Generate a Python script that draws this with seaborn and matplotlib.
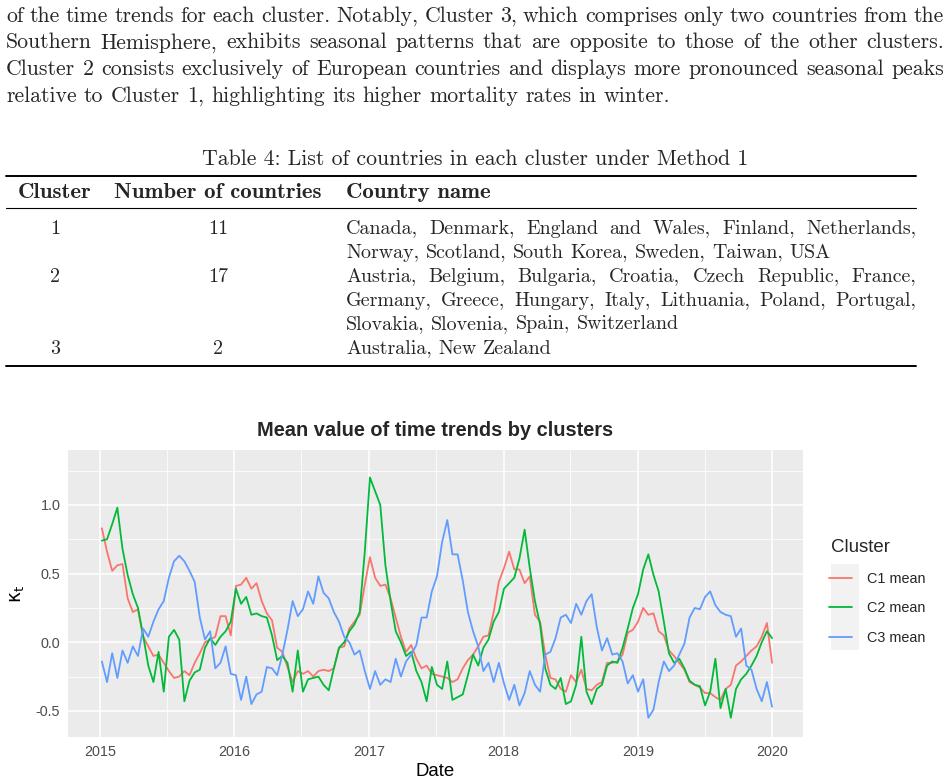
import numpy as np
import pandas as pd
import matplotlib
matplotlib.use("Agg")
import matplotlib.pyplot as plt
import matplotlib.dates as mdates
import seaborn as sns
from matplotlib.patches import Rectangle
from matplotlib.lines import Line2D
from matplotlib.font_manager import FontProperties

# -----------------------------
# Data (biweekly means)
# -----------------------------
dates = pd.date_range("2015-01-06", periods=131, freq="14D")

c1_mean = [
    0.83, 0.66, 0.52, 0.56, 0.57, 0.32, 0.22, 0.24, 0.04, -0.03, -0.10, -0.09, -0.15, -0.21,
    -0.26, -0.25, -0.21, -0.24, -0.15, -0.08, 0.00, 0.02, 0.04, 0.19, 0.19, 0.05, 0.41,
    0.42, 0.47, 0.39, 0.43, 0.30, 0.21, 0.16, -0.04, -0.07, -0.18, -0.29, -0.21, -0.23,
    -0.21, -0.25, -0.21, -0.20, -0.21, -0.19, -0.04, -0.03, 0.10, 0.15, 0.20, 0.42,
    0.62, 0.47, 0.41, 0.42, 0.32, 0.18, 0.04, -0.07, -0.02, -0.12, -0.19, -0.17, -0.23,
    -0.24, -0.25, -0.26, -0.29, -0.27, -0.19, -0.13, -0.09, -0.03, 0.04, 0.05, 0.22, 0.44,
    0.54, 0.66, 0.53, 0.53, 0.43, 0.48, 0.20, 0.15, -0.09, -0.26, -0.27, -0.34, -0.36,
    -0.24, -0.29, -0.20, -0.34, -0.35, -0.31, -0.29, -0.15, -0.15, -0.14, -0.09, 0.07, 0.09,
    0.15, 0.25, 0.20, 0.21, 0.08, 0.05, -0.06, -0.10, -0.15, -0.20, -0.29, -0.31, -0.33,
    -0.37, -0.37, -0.40, -0.42, -0.34, -0.31, -0.17, -0.14, -0.10, -0.06, -0.03, 0.04, 0.14, -0.15,
]
c2_mean = [
    0.74, 0.75, 0.86, 0.98, 0.68, 0.49, 0.35, 0.25, 0.05, -0.17, -0.29, -0.07, -0.36, 0.04,
    0.09, 0.02, -0.43, -0.28, -0.22, -0.20, -0.04, 0.03, -0.02, 0.04, 0.08, 0.15, 0.39,
    0.28, 0.33, 0.20, 0.21, 0.19, 0.18, 0.05, -0.13, -0.10, -0.15, -0.36, -0.06, -0.36,
    -0.27, -0.26, -0.25, -0.31, -0.35, -0.19, -0.04, 0.00, 0.08, 0.13, 0.22, 0.66,
    1.20, 1.10, 1.00, 0.56, 0.30, 0.08, 0.00, -0.10, -0.07, -0.21, -0.29, -0.43, -0.18,
    -0.31, -0.34, -0.14, -0.42, -0.40, -0.38, -0.24, -0.09, -0.17, -0.04, 0.02, 0.15, 0.22,
    0.39, 0.43, 0.47, 0.61, 0.82, 0.54, 0.30, 0.13, -0.19, -0.31, -0.34, -0.26, -0.45,
    -0.43, -0.31, 0.04, -0.36, -0.45, -0.34, -0.31, -0.17, -0.14, -0.15, -0.04, 0.10, 0.25,
    0.35, 0.53, 0.64, 0.49, 0.37, 0.15, -0.08, -0.15, -0.12, -0.19, -0.28, -0.31, -0.32,
    -0.46, -0.36, -0.12, -0.48, -0.34, -0.55, -0.34, -0.27, -0.23, -0.17, -0.10, 0.00, 0.08, 0.03,
]
c3_mean = [
    -0.14, -0.29, -0.08, -0.26, -0.06, -0.15, -0.03, -0.10, 0.10, 0.04, 0.15, 0.24, 0.30,
    0.47, 0.59, 0.63, 0.59, 0.52, 0.44, 0.18, 0.02, 0.08, -0.19, -0.15, -0.03, -0.23, -0.24,
    -0.42, -0.25, -0.45, -0.38, -0.36, -0.18, -0.19, -0.24, -0.09, 0.09, 0.30, 0.19, 0.24,
    0.37, 0.28, 0.48, 0.36, 0.32, 0.22, 0.15, 0.04, 0.00, -0.09, -0.06, -0.21,
    -0.34, -0.21, -0.31, -0.27, -0.29, -0.12, -0.25, -0.14, -0.09, -0.02, 0.18, 0.18, 0.37,
    0.48, 0.73, 0.89, 0.64, 0.64, 0.45, 0.22, 0.08, -0.03, -0.21, -0.15, -0.29, -0.15,
    -0.30, -0.42, -0.31, -0.46, -0.37, -0.21, -0.31, -0.36, -0.09, -0.07, 0.03, 0.18, 0.20,
    0.14, 0.28, 0.20, 0.30, 0.35, 0.11, -0.06, 0.03, -0.09, -0.08, -0.14, -0.30, -0.24,
    -0.36, -0.27, -0.55, -0.49, -0.29, -0.14, -0.21, -0.17, -0.09, -0.01, 0.18, 0.25, 0.24,
    0.33, 0.37, 0.27, 0.22, 0.20, 0.19, 0.04, 0.10, -0.17, -0.20, -0.34, -0.43, -0.29, -0.47,
]

cluster_labels = ["C1 mean", "C2 mean", "C3 mean"]
cluster_colors = ["#F8766D", "#00BA38", "#619CFF"]
y_ticks = [-0.5, 0.0, 0.5, 1.0]
y_tick_labels = ["-0.5", "0.0", "0.5", "1.0"]
y_minor = [-0.25, 0.25, 0.75, 1.25]

paragraph = [
    "of the time trends for each cluster.  Notably, Cluster 3, which comprises only two countries from the",
    "Southern Hemisphere, exhibits seasonal patterns that are opposite to those of the other clusters.",
    "Cluster 2 consists exclusively of European countries and displays more pronounced seasonal peaks",
    "relative to Cluster 1, highlighting its higher mortality rates in winter.",
]
table_caption = "Table 4: List of countries in each cluster under Method 1"
table_header = ["Cluster", "Number of countries", "Country name"]
table_clusters = ["1", "2", "3"]
table_counts = ["11", "17", "2"]
table_names = [
    ["Canada, Denmark, England and Wales, Finland, Netherlands,",
     "Norway, Scotland, South Korea, Sweden, Taiwan, USA"],
    ["Austria, Belgium, Bulgaria, Croatia, Czech Republic, France,",
     "Germany, Greece, Hungary, Italy, Lithuania, Poland, Portugal,",
     "Slovakia, Slovenia, Spain, Switzerland"],
    ["Australia, New Zealand"],
]

# -----------------------------
# Figure setup
# -----------------------------
sns.set_theme(style="darkgrid")
plt.rcParams["font.family"] = ["Liberation Sans", "DejaVu Sans"]
plt.rcParams["mathtext.fontset"] = "dejavusans"

W, H = 950, 784
fig = plt.figure(figsize=(W / 100, H / 100), dpi=100)
fig.patch.set_facecolor("white")
renderer = fig.canvas.get_renderer()


def fx(px):
    return px / W


def fy(py):
    return 1 - py / H


body_font = FontProperties(family="cmr10", size=15.7)
table_font = FontProperties(family="cmr10", size=14.4)
bold_font = FontProperties(family="cmb10", size=16.4)


def put_line(s, x0, y, x1=None, font=body_font):
    # place words one by one so the line can be justified like LaTeX
    words = s.split()
    arts = [fig.text(0, 0, w, fontproperties=font, va="baseline", ha="left") for w in words]
    widths = [a.get_window_extent(renderer).width for a in arts]
    space = font.get_size() * 100 / 72 * 0.333
    gap = space if x1 is None else (x1 - x0 - sum(widths)) / (len(words) - 1)
    x = x0
    for a, w in zip(arts, widths):
        a.set_position((fx(x), fy(y)))
        x += w + gap


# -----------------------------
# Paragraph text
# -----------------------------
for i, line in enumerate(paragraph):
    last = i == len(paragraph) - 1
    put_line(line, 6, 22 + i * 26.5, None if last else 944)

# -----------------------------
# Table
# -----------------------------
fig.text(fx(475), fy(165), table_caption, fontproperties=body_font, ha="center", va="baseline")
for yy, lw in [(176, 1.4), (208, 0.8), (366, 1.4)]:
    fig.add_artist(Line2D([fx(6), fx(916)], [fy(yy), fy(yy)], lw=lw, color="black"))

fig.text(fx(55), fy(198), table_header[0], fontproperties=bold_font, ha="center", va="baseline")
fig.text(fx(218), fy(198), table_header[1], fontproperties=bold_font, ha="center", va="baseline")
fig.text(fx(346), fy(198), table_header[2], fontproperties=bold_font, ha="left", va="baseline")

row_y = 233.5
for cl, cnt, names in zip(table_clusters, table_counts, table_names):
    fig.text(fx(55), fy(row_y), cl, fontproperties=table_font, ha="center", va="baseline")
    fig.text(fx(218), fy(row_y), cnt, fontproperties=table_font, ha="center", va="baseline")
    for j, nm in enumerate(names):
        last = j == len(names) - 1
        put_line(nm, 346, row_y + j * 24, None if last else 916, font=table_font)
    row_y += 24 * len(names)

# -----------------------------
# Chart
# -----------------------------
ax = fig.add_axes([fx(68), fy(737), fx(803) - fx(68), (737 - 450) / H])

df = pd.DataFrame({
    "Date": np.tile(dates, 3),
    "kappa": np.concatenate([c1_mean, c2_mean, c3_mean]),
    "Cluster": np.repeat(cluster_labels, len(dates)),
})
sns.lineplot(data=df, x="Date", y="kappa", hue="Cluster", palette=cluster_colors,
             linewidth=1.3, ax=ax)

ax.set_facecolor("#EBEBEB")
ax.grid(which="major", color="white", linewidth=1.1)
ax.grid(which="minor", color="white", linewidth=0.55)
for s in ax.spines.values():
    s.set_visible(False)

ax.set_xlim(pd.Timestamp("2014-10-06"), pd.Timestamp("2020-03-24"))
ax.xaxis.set_major_locator(mdates.YearLocator())
ax.xaxis.set_major_formatter(mdates.DateFormatter("%Y"))
ax.xaxis.set_minor_locator(mdates.MonthLocator(bymonth=7))
ax.set_ylim(-0.69, 1.40)
ax.set_yticks(y_ticks)
ax.set_yticklabels(y_tick_labels)
ax.set_yticks(y_minor, minor=True)
ax.tick_params(which="major", length=3, width=0.8, color="#333333",
               labelsize=10.4, labelcolor="#4D4D4D", pad=2.5)
ax.tick_params(which="minor", length=0)

ax.set_xlabel("Date", fontsize=13.4, color="black")
ax.xaxis.set_label_coords(0.5, (737 - 771) / 287)
ax.xaxis.label.set_va("center")
ax.set_ylabel(r"$\mathrm{\kappa_t}$", fontsize=13.4, color="black")
ax.yaxis.set_label_coords((18 - 68) / 735, 0.5)
ax.yaxis.label.set_va("center")

fig.text(fx(435.5), fy(431), "Mean value of time trends by clusters", ha="center",
         va="center", fontsize=14.4, fontweight="bold")

# legend
fig.add_artist(Rectangle((fx(831), fy(650)), fx(859) - fx(831), (650 - 564) / H,
                         transform=fig.transFigure, facecolor="#F2F2F2",
                         edgecolor="none", zorder=-1))
fig.text(fx(831), fy(547), "Cluster", ha="left", va="center", fontsize=13.4)
leg = ax.legend(loc="upper left", bbox_to_anchor=(fx(829), fy(572)),
                bbox_transform=fig.transFigure, frameon=False, fontsize=10.4,
                handlelength=1.6, handletextpad=1.0,
                labelspacing=1.06, borderpad=0, borderaxespad=0)
for ln in leg.get_lines():
    ln.set_linewidth(1.3)

fig.savefig("out.png", dpi=100)
